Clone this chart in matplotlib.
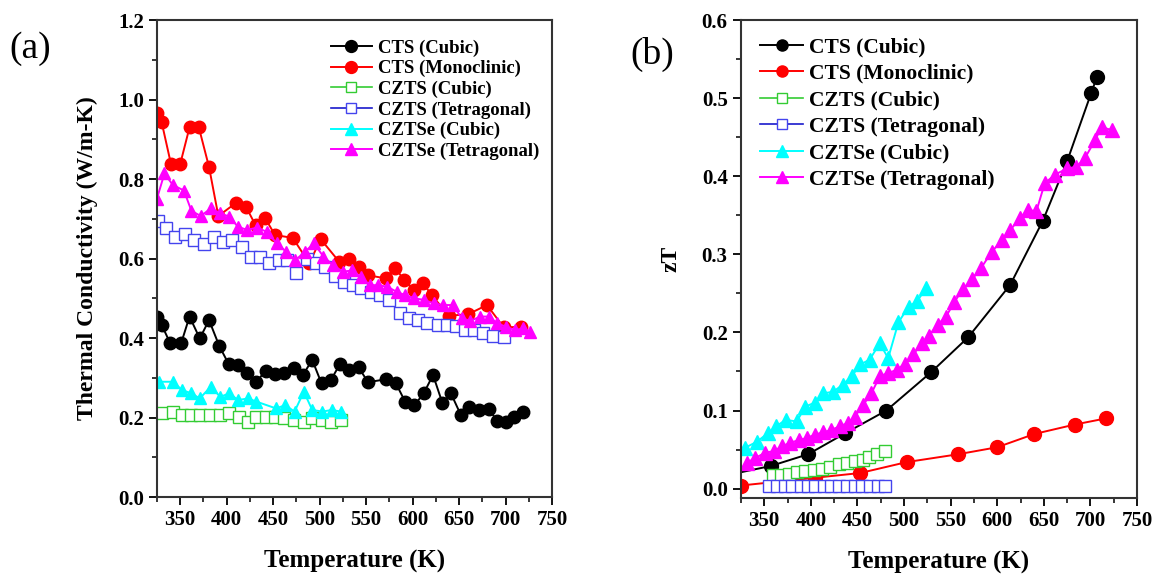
import matplotlib
matplotlib.use("Agg")
import matplotlib.pyplot as plt
from matplotlib.ticker import MultipleLocator, FormatStrFormatter

plt.rcParams['font.family'] = ['Liberation Serif', 'DejaVu Serif']
plt.rcParams['font.weight'] = 'bold'

# (a) thermal conductivity, W/m-K
cts_cub_T = [325, 330, 339, 351, 360, 371, 381, 392, 402, 412, 422, 432, 442, 452, 462, 472,
             482, 492, 502, 512, 522, 532, 542, 552, 571, 582, 592, 602, 612, 622, 632, 641,
             652, 661, 671, 682, 691, 700, 709, 719]
cts_cub_k = [0.453, 0.433, 0.388, 0.387, 0.454, 0.399, 0.445, 0.380, 0.335, 0.332, 0.311, 0.290,
             0.318, 0.309, 0.313, 0.324, 0.307, 0.345, 0.286, 0.294, 0.335, 0.319, 0.326, 0.289,
             0.296, 0.286, 0.240, 0.231, 0.261, 0.307, 0.237, 0.262, 0.206, 0.227, 0.219, 0.221,
             0.192, 0.189, 0.202, 0.215]

cts_mono_T = [325, 330, 340, 350, 360, 370, 381, 391, 410, 421, 431, 441, 452, 471, 489, 501,
              521, 532, 542, 552, 571, 581, 591, 601, 611, 621, 639, 660, 680, 698, 717]
cts_mono_k = [0.965, 0.943, 0.838, 0.838, 0.930, 0.930, 0.830, 0.707, 0.740, 0.729, 0.684, 0.703,
              0.659, 0.652, 0.588, 0.649, 0.592, 0.600, 0.579, 0.558, 0.550, 0.577, 0.546, 0.522,
              0.538, 0.507, 0.456, 0.460, 0.483, 0.427, 0.428]

czts_cub_T = [330, 342, 352, 362, 371, 382, 393, 403, 413, 423, 432, 442, 452, 462, 472, 483,
              492, 502, 512, 523]
czts_cub_k = [0.212, 0.215, 0.206, 0.206, 0.206, 0.206, 0.206, 0.212, 0.202, 0.189, 0.202, 0.202,
              0.202, 0.198, 0.194, 0.189, 0.198, 0.194, 0.189, 0.194]

czts_tet_T = [326, 335, 344, 355, 365, 376, 386, 396, 406, 416, 426, 436, 446, 456, 465, 475,
              486, 496, 506, 516, 526, 536, 545, 555, 565, 575, 586, 596, 606, 616, 627, 637,
              647, 656, 666, 676, 686, 698]
czts_tet_k = [0.694, 0.676, 0.655, 0.662, 0.647, 0.636, 0.655, 0.642, 0.647, 0.628, 0.605, 0.603,
              0.588, 0.596, 0.596, 0.563, 0.600, 0.588, 0.579, 0.556, 0.542, 0.533, 0.525, 0.516,
              0.508, 0.496, 0.462, 0.450, 0.445, 0.438, 0.433, 0.433, 0.430, 0.420, 0.420, 0.413,
              0.405, 0.403]

cztse_cub_T = [327, 342, 352, 362, 371, 383, 393, 403, 412, 423, 432, 453, 463, 473, 483, 492,
               503, 513, 523]
cztse_cub_k = [0.290, 0.290, 0.269, 0.261, 0.248, 0.278, 0.252, 0.261, 0.244, 0.248, 0.240, 0.223,
               0.231, 0.215, 0.265, 0.219, 0.215, 0.219, 0.215]

cztse_tet_T = [325, 333, 342, 354, 362, 372, 383, 393, 403, 412, 422, 433, 443, 454, 464, 474,
               484, 494, 504, 514, 525, 535, 544, 554, 563, 573, 583, 592, 602, 612, 623, 633,
               643, 653, 662, 673, 682, 691, 701, 710, 719, 726]
cztse_tet_k = [0.751, 0.814, 0.785, 0.771, 0.720, 0.707, 0.726, 0.714, 0.705, 0.680, 0.672, 0.678,
               0.667, 0.638, 0.617, 0.596, 0.617, 0.638, 0.605, 0.584, 0.567, 0.570, 0.554, 0.533,
               0.533, 0.529, 0.516, 0.508, 0.500, 0.496, 0.487, 0.483, 0.483, 0.450, 0.443, 0.454,
               0.454, 0.437, 0.428, 0.420, 0.424, 0.416]

# (b) zT
zt_cts_cub_T = [325, 357, 397, 437, 481, 529, 569, 614, 649, 675, 701, 707]
zt_cts_cub = [0.021, 0.029, 0.044, 0.071, 0.100, 0.149, 0.194, 0.261, 0.343, 0.419, 0.507, 0.527]

zt_cts_mono_T = [325, 405, 453, 503, 558, 600, 640, 683, 717]
zt_cts_mono = [0.004, 0.014, 0.020, 0.034, 0.044, 0.053, 0.070, 0.082, 0.090]

zt_czts_cub_T = [359, 368, 377, 385, 394, 403, 412, 421, 430, 439, 447, 456, 462, 471, 480]
zt_czts_cub = [0.017, 0.018, 0.019, 0.021, 0.022, 0.024, 0.025, 0.028, 0.031, 0.033, 0.035,
               0.037, 0.041, 0.044, 0.048]

zt_czts_tet_T = [355, 364, 372, 380, 389, 397, 405, 414, 422, 430, 439, 447, 455, 464, 472, 480]
zt_czts_tet = [0.003, 0.003, 0.003, 0.003, 0.003, 0.003, 0.003, 0.003, 0.003, 0.003, 0.003,
               0.003, 0.003, 0.003, 0.003, 0.003]

zt_cztse_cub_T = [329, 342, 354, 363, 373, 385, 394, 404, 413, 424, 434, 444, 453, 463, 474,
                  483, 494, 505, 514, 524]
zt_cztse_cub = [0.052, 0.060, 0.071, 0.080, 0.088, 0.086, 0.105, 0.110, 0.122, 0.124, 0.133,
                0.144, 0.159, 0.165, 0.186, 0.167, 0.213, 0.233, 0.240, 0.257]

zt_cztse_tet_T = [331, 340, 351, 360, 369, 378, 387, 396, 404, 413, 422, 431, 440, 447, 456,
                  465, 474, 483, 492, 501, 510, 519, 527, 536, 545, 554, 563, 573, 583, 594,
                  605, 614, 624, 633, 642, 651, 662, 675, 685, 694, 705, 712, 723]
zt_cztse_tet = [0.033, 0.039, 0.046, 0.048, 0.054, 0.059, 0.062, 0.065, 0.069, 0.072, 0.075,
                0.080, 0.084, 0.092, 0.107, 0.122, 0.144, 0.148, 0.152, 0.160, 0.172, 0.186,
                0.196, 0.210, 0.220, 0.239, 0.255, 0.268, 0.283, 0.303, 0.318, 0.331, 0.346,
                0.357, 0.355, 0.391, 0.402, 0.410, 0.412, 0.423, 0.446, 0.463, 0.459]

labels = ['CTS (Cubic)', 'CTS (Monoclinic)', 'CZTS (Cubic)', 'CZTS (Tetragonal)',
          'CZTSe (Cubic)', 'CZTSe (Tetragonal)']

fig = plt.figure(figsize=(11.57, 5.77), dpi=100)
ax1 = fig.add_axes([0.1357, 0.1386, 0.3414, 0.8267])
ax2 = fig.add_axes([0.6404, 0.1369, 0.3423, 0.8284])


def style_axis(ax):
    for s in ax.spines.values():
        s.set_linewidth(1.5)
        s.set_color('#333333')
    ax.tick_params(which='major', direction='out', length=6, width=1.3,
                   labelsize=15, top=False, right=False)
    ax.tick_params(which='minor', direction='out', length=3.5, width=1.1,
                   top=False, right=False)
    ax.xaxis.set_major_locator(MultipleLocator(50))
    ax.xaxis.set_minor_locator(MultipleLocator(25))
    ax.yaxis.set_major_formatter(FormatStrFormatter('%.1f'))
    for lab in ax.get_xticklabels() + ax.get_yticklabels():
        lab.set_fontweight('bold')


# panel (a)
ms = 9
ax1.plot(cts_cub_T, cts_cub_k, '-o', color='black', ms=ms, lw=1.4, label=labels[0])
ax1.plot(cts_mono_T, cts_mono_k, '-o', color='red', ms=ms, lw=1.4, label=labels[1])
ax1.plot(czts_cub_T, czts_cub_k, '-s', color='#33cc33', mfc='white', mec='#33cc33', mew=1,
         ms=8, lw=1.2, label=labels[2])
ax1.plot(czts_tet_T, czts_tet_k, '-s', color='#1a1acc', mfc='white', mec='#4444ee', mew=1,
         ms=8, lw=1.2, label=labels[3])
ax1.plot(cztse_cub_T, cztse_cub_k, '-^', color='cyan', ms=ms, lw=1.4, label=labels[4])
ax1.plot(cztse_tet_T, cztse_tet_k, '-^', color='magenta', ms=ms, lw=1.4, label=labels[5])
ax1.set_xlim(325, 750)
ax1.set_ylim(0.0, 1.2)
ax1.yaxis.set_major_locator(MultipleLocator(0.2))
ax1.yaxis.set_minor_locator(MultipleLocator(0.1))
style_axis(ax1)
ax1.set_xlabel('Temperature (K)', fontsize=18, fontweight='bold')
ax1.set_ylabel('Thermal Conductivity (W/m-K)', fontsize=17, fontweight='bold')
ax1.xaxis.set_label_coords(0.5, -0.11)
ax1.yaxis.set_label_coords(-0.15, 0.5)
ax1.legend(loc='upper right', bbox_to_anchor=(1.01, 0.995), frameon=False,
           prop={'size': 13.5, 'weight': 'bold'}, handlelength=2.2, handletextpad=0.3,
           labelspacing=0.18, markerscale=0.95)

# panel (b)
ax2.plot(zt_cts_cub_T, zt_cts_cub, '-o', color='black', ms=10, lw=1.4,
         markevery=list(range(1, len(zt_cts_cub))), label=labels[0])
ax2.plot(zt_cts_mono_T, zt_cts_mono, '-o', color='red', ms=10, lw=1.4, label=labels[1])
ax2.plot(zt_czts_cub_T, zt_czts_cub, '-s', color='#33cc33', mfc='white', mec='#33cc33', mew=1,
         ms=9, lw=1.2, label=labels[2])
ax2.plot(zt_czts_tet_T, zt_czts_tet, '-s', color='#1a1acc', mfc='white', mec='#4444ee', mew=1,
         ms=9, lw=1.2, label=labels[3])
ax2.plot(zt_cztse_cub_T, zt_cztse_cub, '-^', color='cyan', ms=10, lw=1.4, label=labels[4])
ax2.plot(zt_cztse_tet_T, zt_cztse_tet, '-^', color='magenta', ms=10, lw=1.4, label=labels[5])
ax2.set_xlim(325, 750)
ax2.set_ylim(-0.012, 0.6)
ax2.yaxis.set_major_locator(MultipleLocator(0.1))
ax2.yaxis.set_minor_locator(MultipleLocator(0.05))
style_axis(ax2)
ax2.set_xlabel('Temperature (K)', fontsize=18, fontweight='bold')
ax2.set_ylabel('zT', fontsize=17, fontweight='bold')
ax2.xaxis.set_label_coords(0.5, -0.11)
ax2.yaxis.set_label_coords(-0.15, 0.5)
ax2.legend(loc='upper left', bbox_to_anchor=(0.0, 1.005), frameon=False,
           prop={'size': 15.5, 'weight': 'bold'}, handlelength=2.0, handletextpad=0.25,
           labelspacing=0.3, markerscale=0.8)

fig.text(0.008, 0.9, '(a)', fontsize=27, fontweight='normal')
fig.text(0.545, 0.89, '(b)', fontsize=27, fontweight='normal')

fig.savefig('out.png', dpi=100)
